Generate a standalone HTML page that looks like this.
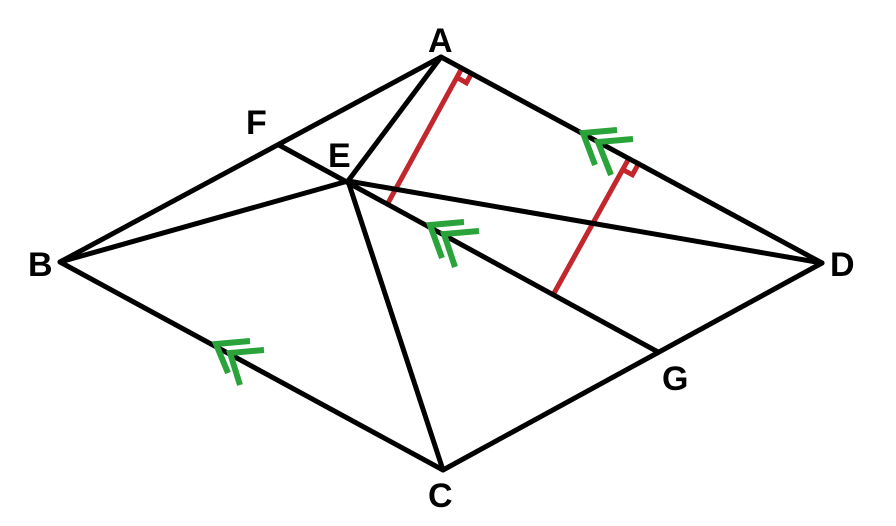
<!DOCTYPE html>
<html><head><style>body{margin:0;background:#fff}svg{display:block}</style></head><body>
<svg width="896" height="526" viewBox="0 0 896 526" xmlns="http://www.w3.org/2000/svg">
<g stroke="#c1272d" stroke-width="5" fill="none">
<line x1="388" y1="203" x2="462" y2="68"/>
<polyline points="457,77.6 466.4,82.8 471.7,73.2"/>
<line x1="553" y1="295" x2="628" y2="160"/>
<polyline points="622.7,169.6 632.4,174.8 637.7,165.2"/>
</g>
<g stroke="#000" stroke-width="5" stroke-linecap="round" fill="none">
<polygon points="441,57 60,262 443,470 822,263" stroke-linejoin="round"/>
<line x1="441" y1="57" x2="348" y2="181"/>
<line x1="60" y1="262" x2="348" y2="181"/>
<line x1="348" y1="181" x2="822" y2="263"/>
<line x1="348" y1="181" x2="443" y2="470"/>
<line x1="279" y1="145" x2="658" y2="352"/>
</g>
<g stroke="#2aa33b" stroke-width="6" fill="none">
<polyline points="617,130 583,133 595,165"/>
<polyline points="633,139 598,142 611,175"/>
<polyline points="250,341 216,344 228,373"/>
<polyline points="264,350 230,353 240,385"/>
<polyline points="464,222 430,225 442,258"/>
<polyline points="479,231 444,234 455,267"/>
</g>
<g font-family="Liberation Sans, sans-serif" font-weight="bold" font-size="34" fill="#000">
<text x="428" y="52">A</text>
<text x="28" y="276">B</text>
<text x="428" y="507">C</text>
<text x="830" y="276">D</text>
<text x="328" y="167">E</text>
<text x="246" y="134">F</text>
<text x="662" y="390">G</text>
</g>
</svg>
</body></html>
